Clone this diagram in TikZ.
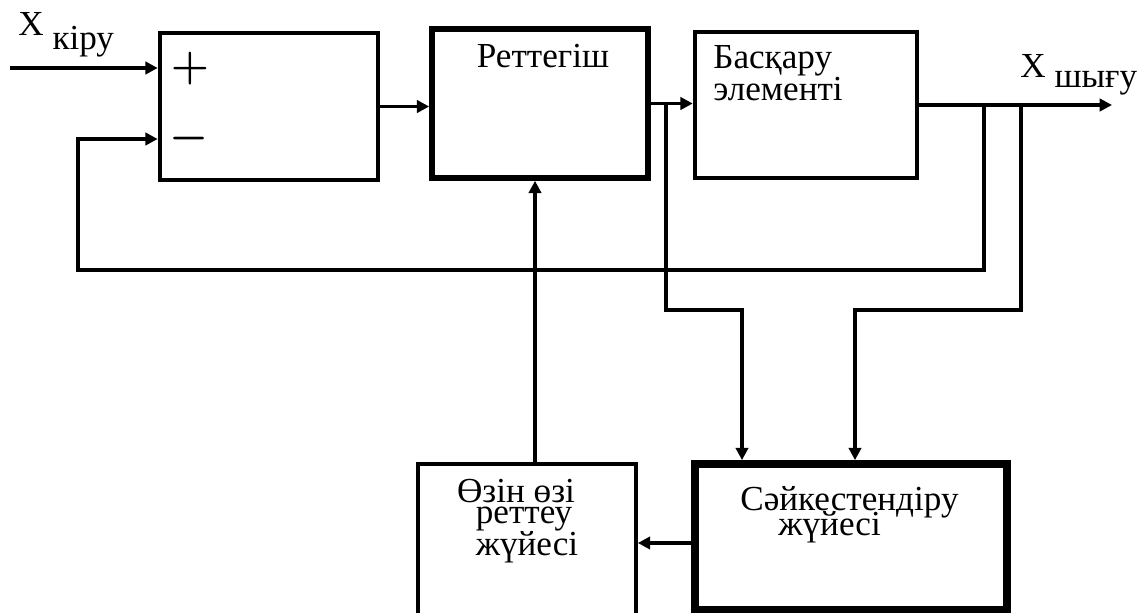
\documentclass[tikz,border=0pt]{standalone}
\usepackage{fontspec}
\setmainfont{Liberation Serif}
\usetikzlibrary{positioning,arrows.meta,calc}

\begin{document}
\begin{tikzpicture}[x=0.02cm, y=-0.02cm,
  box/.style 2 args={draw, rectangle, inner sep=0pt, minimum width=#1*0.02cm, minimum height=#2*0.02cm},
  lbl/.style={inner sep=0pt, font=\fontsize{20}{22}\selectfont},
  sign/.style={inner sep=0pt, font=\fontsize{28}{30}\selectfont\boldmath},
  conn/.style={line width=2pt, -{Triangle[length=7pt, width=7pt]}}]

\clip (0,0) rectangle (1145,612);

% blocks
\node[box={218}{147}, line width=2.6pt] (sum) at (269,106.5) {};
\node[box={216}{149}, line width=3.2pt] (reg) at (540,103.5) {};
\node[box={222}{146}, line width=2.6pt] (ctrl) at (806,105) {};
\node[box={218}{154}, line width=2.1pt] (self) at (527,541) {};
\node[box={312}{146}, line width=4.4pt] (adj) at (851,537) {};

% texts
\node[lbl, anchor=base] (regtxt) at (543,67) {Реттегіш};
\node[lbl, anchor=base west] (ctrltxt) at (713,68) {Басқару};
\node[lbl, anchor=base west] (ctrltxtb) at (713,100) {элементі};
\node[lbl, anchor=base] (selftxt) at (516,502) {Өзін өзі};
\node[lbl, anchor=base] (selftxtb) at (524,523) {реттеу};
\node[lbl, anchor=base] (selftxtc) at (527,555) {жүйесі};
\node[lbl, anchor=base west] (adjtxt) at (740,510) {Сәйкестендіру};
\node[lbl, anchor=base west] (adjtxtb) at (778,535) {жүйесі};
\node[lbl, anchor=base west] (xin) at (18,35) {X \raisebox{-8.5pt}{кіру}};
\node[lbl, anchor=base west] (xout) at (1020,77) {X \raisebox{-6pt}{шығу}};
\node[sign] (plus) at (190,69) {$+$};
\node[sign] (minus) at (189,139) {$-$};

% forward path
\coordinate (in) at (10,68);
\coordinate (out) at (1112,105);
\draw[conn] (in) -- (in -| sum.west);
\draw[conn] (sum.east) -- (sum.east -| reg.west);
\draw[conn] (reg.east) -- (reg.east -| ctrl.west);
\draw[conn, line width=2.4pt] (ctrl.east) -- (out);

% feedback and branches
\coordinate (br1) at (666,103.5);
\coordinate (br2) at (984,105);
\coordinate (br3) at (1021,105);
\coordinate (t1) at (742,310);
\coordinate (t2) at (855,310);
\draw[conn] (br2) |- (78,270) |- (sum.west |- minus);
\draw[conn] (br1) |- (t1) -- (t1 |- adj.north);
\draw[conn] (br3) |- (t2) -- (t2 |- adj.north);
\draw[conn] ($(adj.west)+(0,6)$) -- ($(self.east)+(0,2)$);
\draw[conn] ($(self.north)+(8,0)$) -- ($(reg.south)+(-5,0)$);
\end{tikzpicture}
\end{document}
